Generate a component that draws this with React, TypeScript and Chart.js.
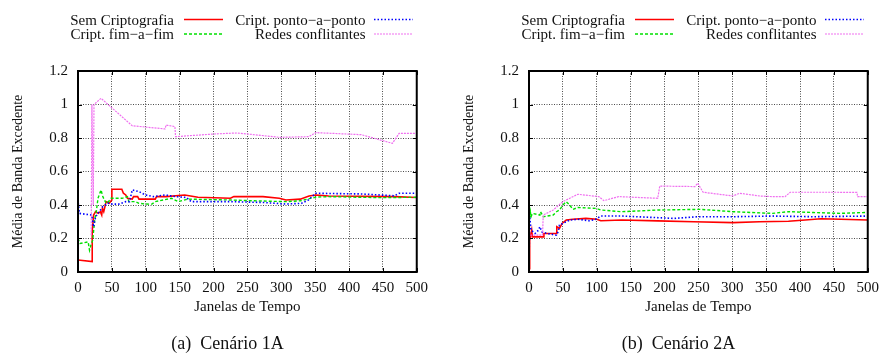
import React, { useEffect, useRef } from "react";
import { Chart, registerables } from "chart.js";

Chart.register(...registerables);

// ---------------- DATA ----------------
const seriesNames = ["Sem Criptografia", "Cript. fim−a−fim", "Cript. ponto−a−ponto", "Redes conflitantes"];
const captions = ["(a)  Cenário 1A", "(b)  Cenário 2A"];
const xTickValues = [0, 50, 100, 150, 200, 250, 300, 350, 400, 450, 500];
const yTickValues = [0, 0.2, 0.4, 0.6, 0.8, 1, 1.2];

// Cenário 1A
const semX1 = [0, 21, 21, 23, 26, 30, 33, 35, 36, 38, 41.5, 46, 50, 50, 64.7, 67, 70.5, 73, 80, 82, 88, 90, 114, 116, 130, 157.5, 177, 225, 230, 273, 297, 307, 328, 341, 351, 370, 467, 500];
const semY1 = [0.072, 0.062, 0.24, 0.34, 0.36, 0.35, 0.36, 0.34, 0.38, 0.36, 0.42, 0.41, 0.43, 0.494, 0.494, 0.47, 0.46, 0.44, 0.435, 0.45, 0.45, 0.435, 0.435, 0.45, 0.45, 0.46, 0.446, 0.44, 0.45, 0.45, 0.44, 0.43, 0.435, 0.454, 0.46, 0.454, 0.45, 0.445];
const fimX1 = [0, 3, 15, 17, 19, 21.7, 24.6, 27, 29.5, 34, 36.6, 41.5, 45, 48.8, 65, 73, 75, 85, 90, 99.5, 109, 114, 138, 148, 162, 225, 260, 307, 328, 351, 370, 444, 500];
const fimY1 = [0.2, 0.17, 0.18, 0.13, 0.16, 0.19, 0.31, 0.36, 0.44, 0.49, 0.45, 0.41, 0.42, 0.44, 0.44, 0.45, 0.42, 0.42, 0.41, 0.406, 0.405, 0.42, 0.44, 0.42, 0.435, 0.43, 0.425, 0.42, 0.425, 0.447, 0.45, 0.444, 0.446];
const pontoX1 = [0, 0.5, 2, 20, 22, 23, 26, 36.6, 44, 51, 60, 70.5, 76, 79, 80, 90, 99.5, 111, 128.5, 145, 160, 167, 225, 273, 307, 330, 340, 351, 418, 467, 474, 500];
const pontoY1 = [0.2, 0.41, 0.35, 0.34, 0.3, 0.27, 0.33, 0.39, 0.41, 0.405, 0.405, 0.42, 0.42, 0.47, 0.49, 0.48, 0.46, 0.45, 0.46, 0.45, 0.445, 0.42, 0.42, 0.415, 0.406, 0.41, 0.43, 0.47, 0.466, 0.455, 0.47, 0.47];
const redesX1 = [19.5, 20.5, 22.5, 23.6, 34, 80, 128.5, 130, 143, 144, 201, 235, 297.6, 341, 350.7, 418, 464, 474, 500];
const redesY1 = [0.22, 1.0, 0.4, 1.0, 1.037, 0.873, 0.854, 0.877, 0.868, 0.808, 0.824, 0.83, 0.804, 0.808, 0.832, 0.82, 0.768, 0.828, 0.828];

// Cenário 2A
const semX2 = [0.5, 1, 4, 5, 21, 22, 40.6, 41, 45, 48.8, 55, 64.7, 84, 100, 106, 137, 190, 243, 301, 340, 383, 407.6, 431, 460, 500];
const semY2 = [0.02, 0.19, 0.25, 0.21, 0.21, 0.23, 0.23, 0.27, 0.26, 0.29, 0.31, 0.315, 0.32, 0.315, 0.306, 0.31, 0.305, 0.3, 0.295, 0.3, 0.303, 0.31, 0.318, 0.315, 0.31];
const fimX2 = [0, 1, 2, 3, 5, 16, 17, 21, 35.7, 40.6, 45, 50, 55, 60, 64.7, 72, 98.5, 106, 137, 190, 253, 301, 359, 383, 420, 460, 500];
const fimY2 = [0.3, 0.33, 0.36, 0.33, 0.35, 0.34, 0.36, 0.33, 0.34, 0.36, 0.37, 0.4, 0.42, 0.4, 0.374, 0.385, 0.38, 0.37, 0.36, 0.37, 0.374, 0.36, 0.35, 0.36, 0.355, 0.35, 0.356];
const pontoX2 = [0, 0.5, 1, 3, 9, 14, 16, 19, 26, 40.6, 43, 45, 50, 60, 72, 89, 98.5, 106, 137, 214, 249, 301, 359, 420, 500];
const pontoY2 = [0.0, 0.2, 0.33, 0.25, 0.23, 0.25, 0.27, 0.24, 0.23, 0.22, 0.24, 0.28, 0.29, 0.31, 0.315, 0.306, 0.315, 0.334, 0.334, 0.32, 0.33, 0.33, 0.334, 0.33, 0.334];
const redesX2 = [2, 20, 21, 35.7, 50, 72, 103, 110.6, 132, 190, 193, 245, 249, 257, 301, 311, 340, 359, 378, 385.5, 455.5, 484, 485, 500];
const redesY2 = [0.22, 0.22, 0.34, 0.37, 0.42, 0.464, 0.45, 0.426, 0.45, 0.44, 0.513, 0.51, 0.53, 0.476, 0.454, 0.47, 0.454, 0.45, 0.45, 0.476, 0.476, 0.475, 0.45, 0.45];

// ---------------- STYLES ----------------
const FONT = "'Liberation Serif', 'Times New Roman', serif";
const lineColors = ["#ff0000", "#00e000", "#0000ff", "#f070f0"];
const lineDashes: number[][] = [[], [3, 2], [1.5, 2], [2, 1]];
const lineWidths = [1.6, 1.4, 1.6, 1.2];

const CANVAS_W = 435;
const CANVAS_H = 354;

function pts(xs: number[], ys: number[]) {
  return xs.map((x, i) => ({ x, y: ys[i] }));
}

const decorPlugin = {
  id: "decor",
  afterDraw(chart: any, _args: any, opts: any) {
    const { ctx, chartArea: a, scales } = chart;
    ctx.save();
    // inward tick marks
    ctx.strokeStyle = "#000";
    ctx.lineWidth = 1;
    ctx.setLineDash([]);
    ctx.beginPath();
    for (const v of xTickValues) {
      const p = Math.round(scales.x.getPixelForValue(v)) + 0.5;
      ctx.moveTo(p, a.bottom);
      ctx.lineTo(p, a.bottom - 4);
      ctx.moveTo(p, a.top);
      ctx.lineTo(p, a.top + 4);
    }
    for (const v of yTickValues) {
      const p = Math.round(scales.y.getPixelForValue(v)) + 0.5;
      ctx.moveTo(a.left, p);
      ctx.lineTo(a.left + 4, p);
      ctx.moveTo(a.right, p);
      ctx.lineTo(a.right - 4, p);
    }
    ctx.stroke();
    // frame
    ctx.lineWidth = 2;
    ctx.strokeRect(a.left, a.top, a.right - a.left, a.bottom - a.top);

    // legend (gnuplot style)
    ctx.font = `15px ${FONT}`;
    ctx.fillStyle = "#111";
    ctx.textAlign = "right";
    ctx.textBaseline = "alphabetic";
    const cols = [
      { textRight: 174, x0: 184, x1: 223 },
      { textRight: 365.5, x0: 374, x1: 413 },
    ];
    const rows = [24.5, 39];
    const order = [
      [0, 0],
      [1, 0],
      [0, 1],
      [1, 1],
    ]; // [row, col] per series index
    seriesNames.forEach((name, i) => {
      const [r, c] = order[i];
      const col = cols[c];
      const by = rows[r];
      ctx.fillText(name, col.textRight, by);
      ctx.save();
      ctx.strokeStyle = lineColors[i];
      ctx.lineWidth = lineWidths[i];
      ctx.setLineDash(lineDashes[i]);
      ctx.beginPath();
      ctx.moveTo(col.x0, by - 5);
      ctx.lineTo(col.x1, by - 5);
      ctx.stroke();
      ctx.restore();
    });

    // caption
    ctx.font = `18px ${FONT}`;
    ctx.textAlign = "center";
    ctx.fillStyle = "#111";
    ctx.fillText(opts.caption, 227.5, 348.5);
    ctx.restore();
  },
};

function Panel({ left, caption, series }: { left: number; caption: string; series: { x: number; y: number }[][] }) {
  const ref = useRef<HTMLCanvasElement>(null);
  useEffect(() => {
    const datasets = series.map((data, i) => ({
      label: seriesNames[i],
      data,
      borderColor: lineColors[i],
      borderWidth: lineWidths[i],
      borderDash: lineDashes[i],
      pointRadius: 0,
      tension: 0,
      fill: false,
      order: 4 - i,
    }));
    const chart = new Chart(ref.current!, {
      type: "line",
      data: { datasets },
      plugins: [decorPlugin],
      options: {
        animation: false,
        responsive: false,
        devicePixelRatio: 1,
        layout: { padding: { left: 0, right: CANVAS_W - 423, top: 71, bottom: 0 } },
        plugins: {
          legend: { display: false },
          tooltip: { enabled: false },
          decor: { caption },
        } as any,
        scales: {
          x: {
            type: "linear",
            min: 0,
            max: 500,
            afterFit: (s: any) => {
              s.height = CANVAS_H - 272;
            },
            afterBuildTicks: (s: any) => {
              s.ticks = xTickValues.map((v) => ({ value: v }));
            },
            ticks: {
              font: { family: FONT, size: 15 },
              color: "#111",
              padding: 7,
              maxRotation: 0,
              autoSkip: false,
              callback: (v: any) => String(v),
            },
            grid: { color: "rgba(0,0,0,0.7)", lineWidth: 1, drawTicks: false },
            border: { display: false, dash: [1, 1.5] },
            title: {
              display: true,
              text: "Janelas de Tempo",
              font: { family: FONT, size: 15 },
              color: "#111",
              padding: { top: 0, bottom: 38 },
            },
          },
          y: {
            type: "linear",
            min: 0,
            max: 1.2,
            afterFit: (s: any) => {
              s.width = 78;
            },
            afterBuildTicks: (s: any) => {
              s.ticks = yTickValues.map((v) => ({ value: v }));
            },
            ticks: {
              font: { family: FONT, size: 15 },
              color: "#111",
              padding: 10,
              autoSkip: false,
              callback: (v: any) => String(+Number(v).toFixed(1)),
            },
            grid: { color: "rgba(0,0,0,0.7)", lineWidth: 1, drawTicks: false },
            border: { display: false, dash: [1, 1.5] },
            title: {
              display: true,
              text: "Média de Banda Excedente",
              font: { family: FONT, size: 14 },
              color: "#111",
              padding: { top: 10, bottom: 0 },
            },
          },
        },
      } as any,
    });
    return () => chart.destroy();
  }, []);
  return (
    <canvas
      ref={ref}
      width={CANVAS_W}
      height={CANVAS_H}
      style={{ position: "absolute", left, top: 0, width: CANVAS_W, height: CANVAS_H }}
    />
  );
}

export default function App() {
  const s1 = [pts(semX1, semY1), pts(fimX1, fimY1), pts(pontoX1, pontoY1), pts(redesX1, redesY1)];
  const s2 = [pts(semX2, semY2), pts(fimX2, fimY2), pts(pontoX2, pontoY2), pts(redesX2, redesY2)];
  return (
    <div style={{ position: "absolute", left: 0, top: 0, width: 886, height: 354, background: "#fff" }}>
      <Panel left={0} caption={captions[0]} series={s1} />
      <Panel left={451} caption={captions[1]} series={s2} />
    </div>
  );
}
